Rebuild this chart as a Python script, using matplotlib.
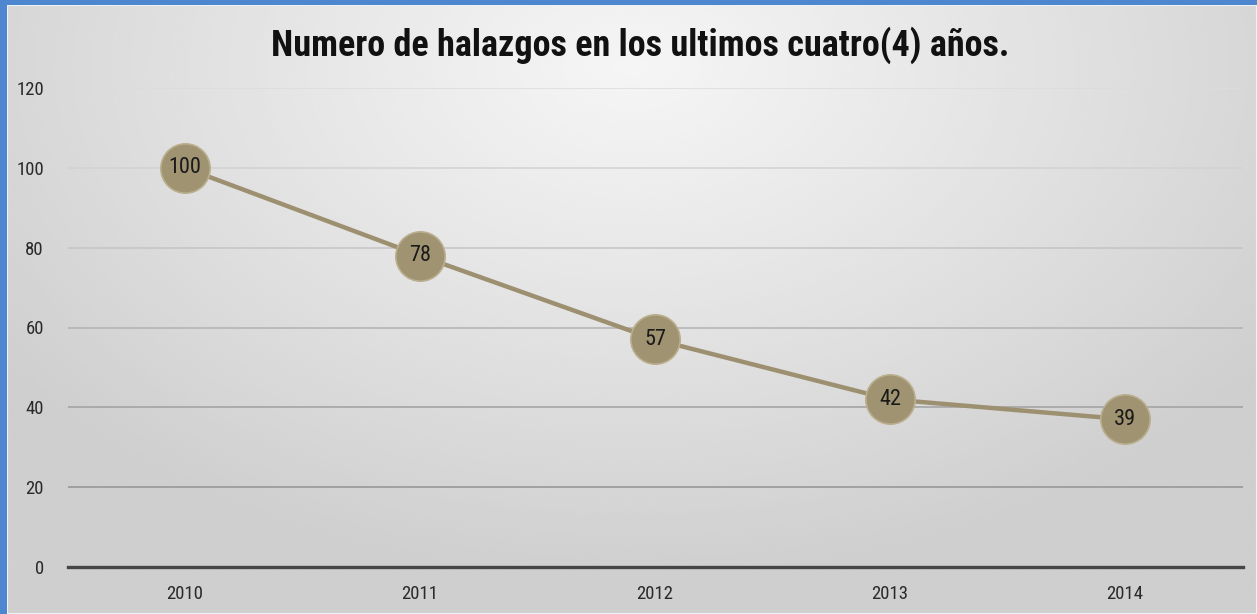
import numpy as np
import matplotlib.pyplot as plt

# ----- Datos ----- #
years = ["2010", "2011", "2012", "2013", "2014"]
hallazgos = [100, 78, 57, 42, 37]
etiquetas = ["100", "78", "57", "42", "39"]
y_ticks = [0, 20, 40, 60, 80, 100, 120]
titulo = "Numero de halazgos en los ultimos cuatro(4) años."

FUENTE = ["Roboto Condensed", "Archivo Narrow", "PT Sans Narrow", "Liberation Sans"]

W, H = 1257, 614
fig = plt.figure(figsize=(W / 100, H / 100), dpi=100, facecolor="#4f86d0")

# fondo con degradado radial
bg = fig.add_axes([7 / W, 0, (W - 7) / W, (H - 5) / H])
gx, gy = np.meshgrid(np.linspace(-1, 1, 600), np.linspace(-1, 1, 300))
r = np.sqrt((gx / 1.25) ** 2 + ((gy + 0.8) / 1.7) ** 2)
r = np.clip(r, 0, 1)
vals = 0.96 - 0.15 * r ** 1.1
bg.imshow(vals, cmap="gray", vmin=0, vmax=1, aspect="auto",
          extent=[0, 1, 0, 1], origin="upper", interpolation="bicubic")
bg.set_axis_off()
bg.add_patch(plt.Rectangle((0, 0), 1, 1, transform=bg.transAxes, fill=False,
                           edgecolor="#eef2f8", linewidth=1.5))

# area de grafico
left, right = 67.5 / W, 1242.5 / W
bottom, top = (H - 567) / H, (H - 88) / H
ax = fig.add_axes([left, bottom, right - left, top - bottom])
ax.patch.set_alpha(0)

x = np.arange(len(years))
ax.plot(x, hallazgos, color="#9d9070", linewidth=3.2, zorder=3)
ax.plot(x, hallazgos, linestyle="none", marker="o", markersize=35.5,
        markerfacecolor="#a09371", markeredgecolor="#b9ae8e",
        markeredgewidth=1.2, zorder=4)
for xi, yi, lab in zip(x, hallazgos, etiquetas):
    ax.text(xi, yi, lab, ha="center", va="center", fontsize=16,
            family=FUENTE, color="#1a1a1a", zorder=5)

ax.set_xlim(-0.5, len(years) - 0.5)
ax.set_ylim(0, 120)
ax.set_yticks(y_ticks)
ax.set_xticks(x)
ax.set_xticklabels(years)

# lineas de cuadricula: mas tenues arriba, como en el original
grid_cols = ["#8a8a8a", "#939393", "#a0a0a0", "#b2b2b2", "#c4c4c4", "#d2d2d2", "#dcdcdc"]
for yt, c in zip(y_ticks[1:], grid_cols[1:]):
    ax.axhline(yt, color=c, linewidth=1.1, zorder=1)

ax.tick_params(length=0, labelsize=13.5, labelcolor="#2a2a2a")
ax.tick_params(axis="y", pad=17)
ax.tick_params(axis="x", pad=13)
for lab in ax.get_xticklabels() + ax.get_yticklabels():
    lab.set_family(FUENTE)
for s in ["top", "right", "left"]:
    ax.spines[s].set_visible(False)
ax.spines["bottom"].set_color("#454545")
ax.spines["bottom"].set_linewidth(2.4)

fig.text(640 / W, 1 - 45 / H, titulo, ha="center", va="center",
         fontsize=26, fontweight="bold", family=FUENTE, color="#111111")

fig.savefig("out.png", dpi=100, facecolor=fig.get_facecolor())
